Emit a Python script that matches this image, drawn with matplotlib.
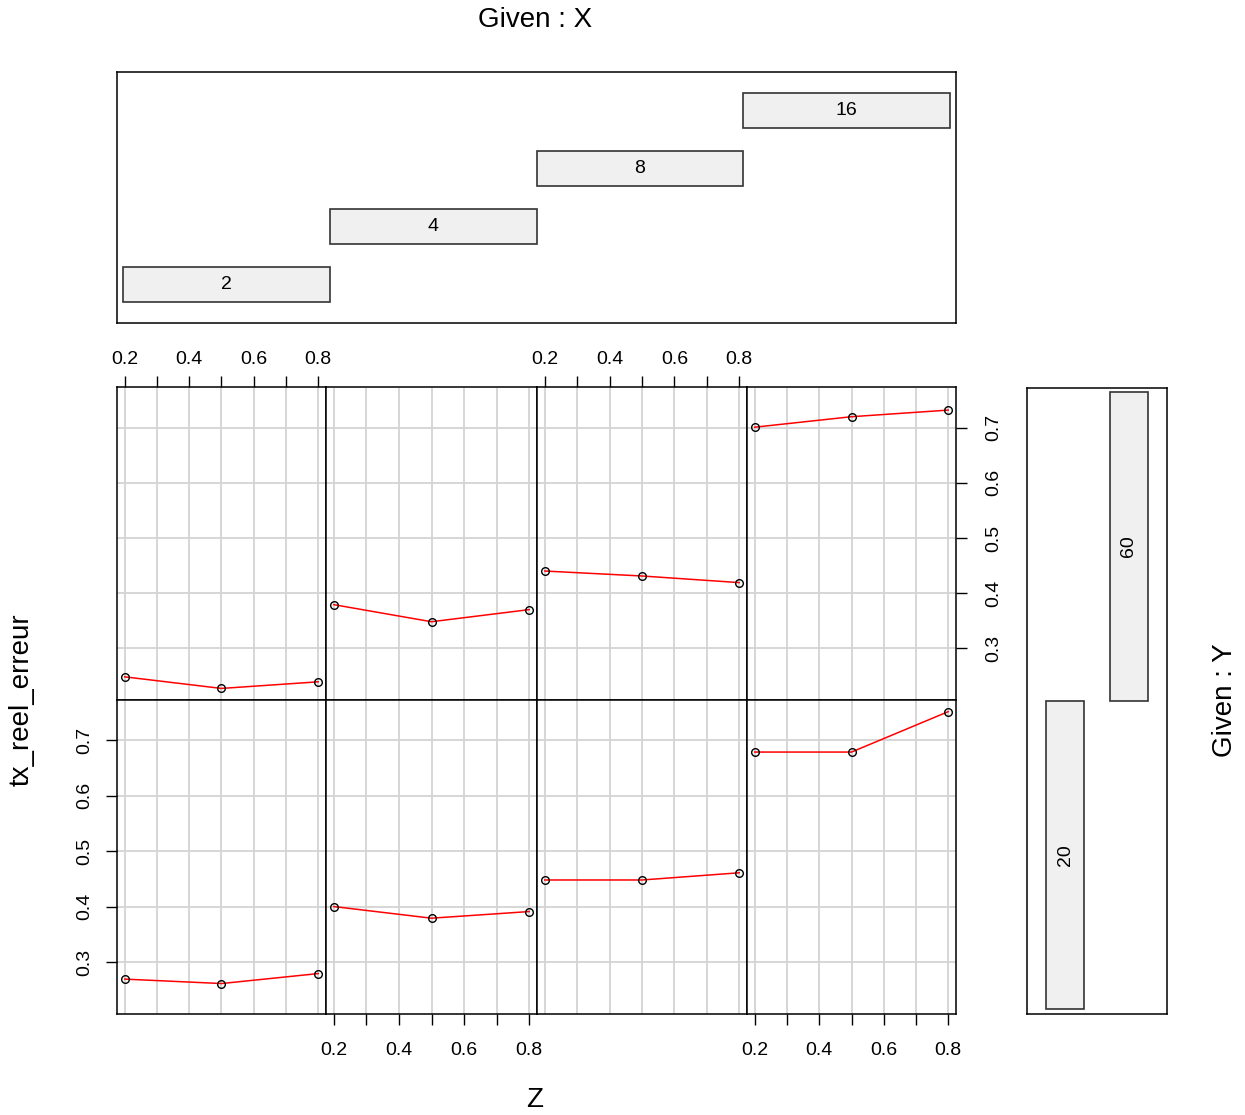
import numpy as np
import matplotlib.pyplot as plt
from matplotlib.ticker import FixedLocator, FixedFormatter

plt.rcParams['font.family'] = ['Liberation Sans', 'DejaVu Sans']

z = [0.2, 0.5, 0.8]
x_levels = ['2', '4', '8', '16']
y_levels = ['20', '60']

# tx_reel_erreur, one list per X level (columns), for each Y level (rows)
err_y20 = [[0.269, 0.261, 0.279],
           [0.400, 0.379, 0.391],
           [0.448, 0.448, 0.461],
           [0.679, 0.679, 0.752]]
err_y60 = [[0.248, 0.227, 0.239],
           [0.379, 0.348, 0.370],
           [0.440, 0.431, 0.419],
           [0.701, 0.720, 0.732]]

xticks = [0.2, 0.3, 0.4, 0.5, 0.6, 0.7, 0.8]
xticklabels = ['0.2', '', '0.4', '', '0.6', '', '0.8']
yticks = [0.3, 0.4, 0.5, 0.6, 0.7]
yticklabels = ['0.3', '0.4', '0.5', '0.6', '0.7']

W, H = 1245, 1115
fig = plt.figure(figsize=(W / 100, H / 100), dpi=100)


def px_axes(x0, y0, x1, y1):
    return fig.add_axes([x0 / W, 1 - y1 / H, (x1 - x0) / W, (y1 - y0) / H])


# R style limits: 4% extension
zr = max(z) - min(z)
xlim = (min(z) - 0.04 * zr, max(z) + 0.04 * zr)
allv = np.array(err_y20 + err_y60)
vr = allv.max() - allv.min()
ylim = (allv.min() - 0.04 * vr, allv.max() + 0.04 * vr)

col_edges = [117, 326, 537, 747, 956]
row_edges = [387.5, 700, 1014]
rows = [err_y60, err_y20]  # top row is Y=60
tick_len = 8
fs_tick = 14

for r, series in enumerate(rows):
    for c, vals in enumerate(series):
        ax = px_axes(col_edges[c], row_edges[r], col_edges[c + 1], row_edges[r + 1])
        ax.set_xlim(xlim)
        ax.set_ylim(ylim)
        ax.grid(True, color='#d3d3d3', lw=1.3)
        ax.set_axisbelow(True)
        ax.plot(z, vals, color='red', lw=1.1, zorder=3)
        ax.plot(z, vals, 'o', mfc='none', mec='black', ms=5.5, mew=1.0, zorder=4)
        ax.xaxis.set_major_locator(FixedLocator(xticks))
        ax.xaxis.set_major_formatter(FixedFormatter(xticklabels))
        ax.yaxis.set_major_locator(FixedLocator(yticks))
        ax.yaxis.set_major_formatter(FixedFormatter(yticklabels))
        for s in ax.spines.values():
            s.set_linewidth(1.1)
        ax.tick_params(axis='both', which='both', length=0, width=1,
                       labelbottom=False, labelleft=False,
                       labeltop=False, labelright=False,
                       bottom=False, left=False, top=False, right=False,
                       labelsize=fs_tick)
        if r == 0 and c in (0, 2):
            ax.tick_params(axis='x', top=True, labeltop=True, length=tick_len,
                           direction='out', pad=6)
        if r == 1 and c in (1, 3):
            ax.tick_params(axis='x', bottom=True, labelbottom=True, length=tick_len,
                           direction='out', pad=12)
        if r == 1 and c == 0:
            ax.tick_params(axis='y', left=True, labelleft=True, length=tick_len,
                           direction='out', pad=9)
            for lab in ax.get_yticklabels():
                lab.set_rotation(90)
                lab.set_va('center')
        if r == 0 and c == 3:
            ax.tick_params(axis='y', right=True, labelright=True, length=tick_len,
                           direction='out', pad=13)
            for lab in ax.get_yticklabels():
                lab.set_rotation(90)
                lab.set_va('center')

bar_fc = '#f0f0f0'
bar_ec = '#333333'

# given panel for X (top)
gx = px_axes(117, 72, 956, 322.5)
pos = np.arange(1, len(x_levels) + 1)
gx.bar(pos, 0.6, bottom=pos - 0.3, width=1.0, color=bar_fc, edgecolor=bar_ec, lw=1.2)
for p, lab in zip(pos, x_levels):
    gx.text(p, p, lab, ha='center', va='center', fontsize=fs_tick)
gx.set_xlim(0.47, len(x_levels) + 0.53)
gx.set_ylim(0.34, len(x_levels) + 0.66)
gx.set_xticks([])
gx.set_yticks([])
for s in gx.spines.values():
    s.set_linewidth(1.1)

# given panel for Y (right)
gy = px_axes(1027, 387.5, 1167, 1014)
pos = np.arange(1, len(y_levels) + 1)
gy.bar(pos, 1.0, bottom=pos - 0.5, width=0.6, color=bar_fc, edgecolor=bar_ec, lw=1.2)
for p, lab in zip(pos, y_levels):
    gy.text(p, p, lab, ha='center', va='center', rotation=90, fontsize=fs_tick)
gy.set_xlim(0.4, len(y_levels) + 0.6)
gy.set_ylim(0.485, len(y_levels) + 0.515)
gy.set_xticks([])
gy.set_yticks([])
for s in gy.spines.values():
    s.set_linewidth(1.1)

fs_lab = 20
fig.text(535 / W, 1 - 20 / H, 'Given : X', ha='center', va='center', fontsize=fs_lab)
fig.text(1225 / W, 1 - 700 / H, 'Given : Y', ha='center', va='center', rotation=90, fontsize=fs_lab)
fig.text(535 / W, 1 - 1100 / H, 'Z', ha='center', va='center', fontsize=fs_lab)
fig.text(22 / W, 1 - 700 / H, 'tx_reel_erreur', ha='center', va='center', rotation=90, fontsize=fs_lab)

fig.savefig('out.png', dpi=100)
